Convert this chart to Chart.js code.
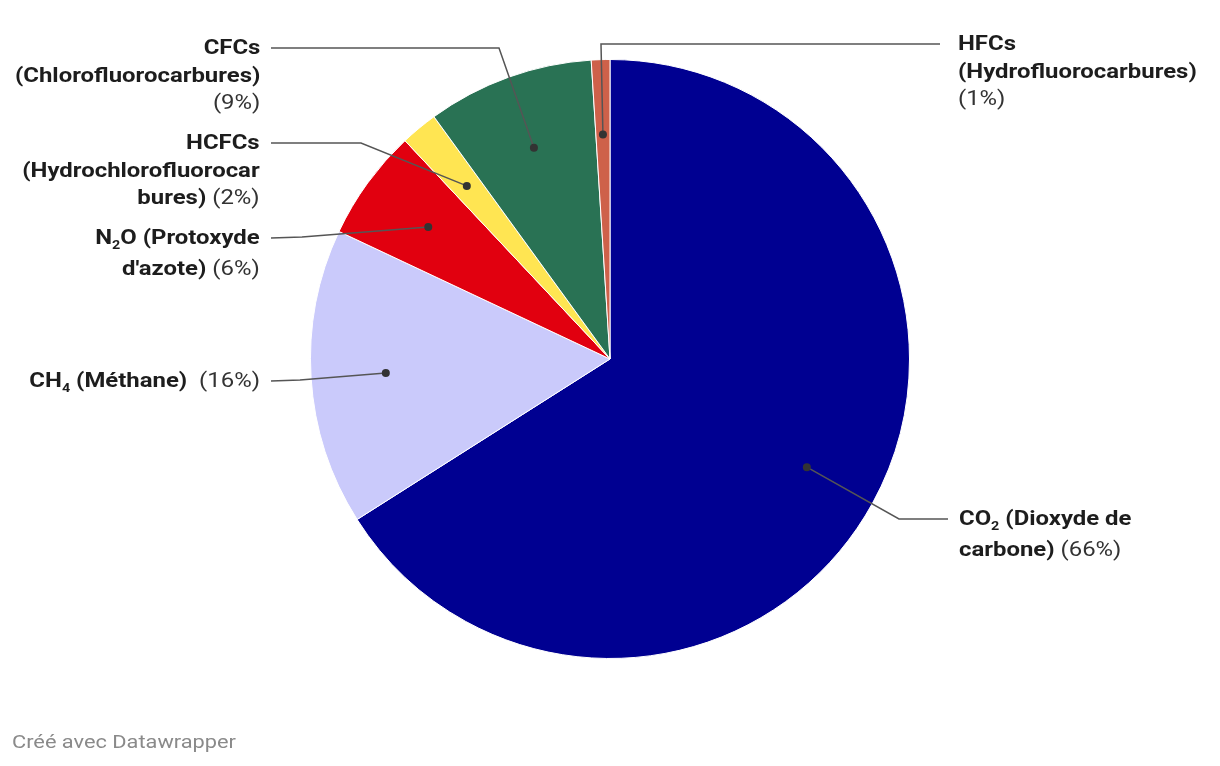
<!DOCTYPE html>
<html>
<head>
<meta charset="utf-8">
<script src="https://cdn.jsdelivr.net/npm/chart.js@4"></script>
<style>
  html, body { margin: 0; padding: 0; background: #fff; }
  #wrap { position: relative; width: 1220px; height: 766px; }
  #footer { position: absolute; left: 12px; top: 731px; font: 18px Roboto, sans-serif; color: #8a8a8a; transform: scaleX(1.21); transform-origin: left center; }
  .lbl { position: absolute; font: bold 20px Roboto, sans-serif; color: #1d1d1d; line-height: 27.5px; transform: scaleX(1.195); }
  .lbl.left { text-align: right; transform-origin: right center; }
  .lbl.right { transform-origin: left center; }
  .lbl div { white-space: pre; }
  .lbl .r { font-weight: normal; color: #333; }
  .lbl .s { font-size: 12px; position: relative; top: 5px; }
</style>
</head>
<body>
<div id="wrap">
  <canvas id="pie" width="1220" height="766"></canvas>
  <div id="footer">Créé avec Datawrapper</div>
</div>
<script>
// données
const categories = ['CO2 (Dioxyde de carbone)', 'CH4 (Méthane)', 'N2O (Protoxyde d\'azote)',
    'HCFCs (Hydrochlorofluorocarbures)', 'CFCs (Chlorofluorocarbures)', 'HFCs (Hydrofluorocarbures)'];
const values = [66, 16, 6, 2, 9, 1];
const colors = ['#000091', '#cacafb', '#e1000f', '#ffe552', '#297254', '#ce614a'];

// texte des étiquettes (b = gras, s = indice, r = normal), le % est ajouté depuis values
const labelLines = [
    [[['CO', 'b'], ['2', 's'], [' (Dioxyde de', 'b']], [['carbone)', 'b'], [' ', 'r'], ['%', 'r']]],
    [[['CH', 'b'], ['4', 's'], [' (Méthane)', 'b'], ['  ', 'r'], ['%', 'r']]],
    [[['N', 'b'], ['2', 's'], ['O (Protoxyde', 'b']], [['d\'azote)', 'b'], [' ', 'r'], ['%', 'r']]],
    [[['HCFCs', 'b']], [['(Hydrochlorofluorocar', 'b']], [['bures)', 'b'], [' ', 'r'], ['%', 'r']]],
    [[['CFCs', 'b']], [['(Chlorofluorocarbures)', 'b']], [['%', 'r']]],
    [[['HFCs', 'b']], [['(Hydrofluorocarbures)', 'b']], [['%', 'r']]]
];

// mise en page des étiquettes : coude(s) du trait puis point d'ancrage du texte
const labelLayout = [
    { side: 'right', path: [[899, 519], [948, 519]], x: 959, y: 519 },
    { side: 'left', path: [[300, 380], [271, 381]], x: 260, y: 381 },
    { side: 'left', path: [[302, 237], [271, 238]], x: 260, y: 238 },
    { side: 'left', path: [[361, 143], [271, 143]], x: 260, y: 143 },
    { side: 'left', path: [[499, 48], [271, 48]], x: 260, y: 48 },
    { side: 'right', path: [[601, 44], [940, 44]], x: 958, y: 44 }
];

// étiquettes en HTML
const wrap = document.getElementById('wrap');
labelLines.forEach((lines, i) => {
    const lay = labelLayout[i];
    const el = document.createElement('div');
    el.className = 'lbl ' + lay.side;
    el.style.top = (lay.y - 14) + 'px';
    if (lay.side === 'left') el.style.right = (1220 - lay.x) + 'px';
    else el.style.left = lay.x + 'px';
    lines.forEach(line => {
        const row = document.createElement('div');
        line.forEach(r => {
            const span = document.createElement('span');
            span.className = r[1];
            span.textContent = r[0] === '%' ? '(' + values[i] + '%)' : r[0];
            row.appendChild(span);
        });
        el.appendChild(row);
    });
    wrap.appendChild(el);
});

const leaderPlugin = {
    id: 'leaders',
    afterDatasetsDraw(chart) {
        const ctx = chart.ctx;
        const arcs = chart.getDatasetMeta(0).data;
        ctx.save();
        arcs.forEach((arc, i) => {
            const mid = (arc.startAngle + arc.endAngle) / 2;
            const px = arc.x + Math.cos(mid) * arc.outerRadius * 0.75;
            const py = arc.y + Math.sin(mid) * arc.outerRadius * 0.75;
            ctx.strokeStyle = '#555';
            ctx.lineWidth = 1.5;
            ctx.beginPath();
            ctx.moveTo(px, py);
            labelLayout[i].path.forEach(p => ctx.lineTo(p[0], p[1]));
            ctx.stroke();
            ctx.fillStyle = '#333';
            ctx.beginPath();
            ctx.arc(px, py, 4, 0, Math.PI * 2);
            ctx.fill();
        });
        ctx.restore();
    }
};

const ctx = document.getElementById('pie').getContext('2d');
const pieChart = new Chart(ctx, {
    type: 'pie',
    data: {
        labels: categories,
        datasets: [{
            data: values,
            backgroundColor: colors,
            borderColor: '#ffffff',
            borderWidth: 1
        }]
    },
    options: {
        responsive: false,
        animation: false,
        layout: { padding: { top: 59, bottom: 107, left: 0, right: 0 } },
        plugins: {
            legend: { display: false },
            tooltip: { enabled: false }
        }
    },
    plugins: [leaderPlugin]
});
</script>
</body>
</html>
